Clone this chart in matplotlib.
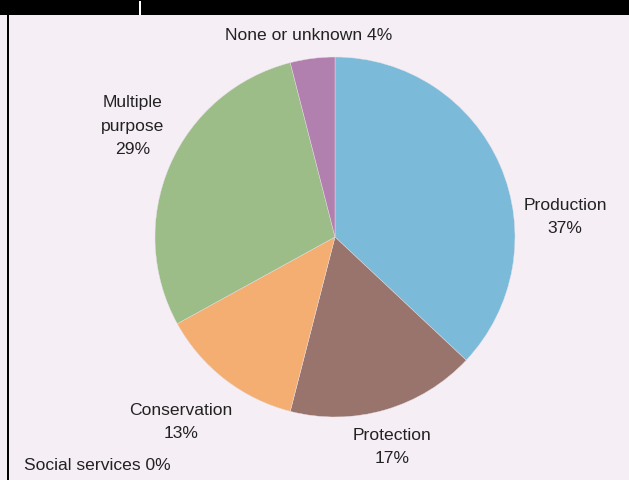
import matplotlib
matplotlib.use("Agg")
import matplotlib.pyplot as plt

categories = ["Production", "Protection", "Conservation", "Multiple purpose", "None or unknown", "Social services"]
values = [37, 17, 13, 29, 4, 0]
colors = ["#7bbbd9", "#98746c", "#f4ae72", "#9cbd88", "#b280ae", "#cccccc"]
label_texts = ["Production\n37%", "Protection\n17%", "Conservation\n13%", "Multiple\npurpose\n29%",
               "None or unknown 4%", "Social services 0%"]

W, H = 629, 480
bg = "#f5eef5"
fig = plt.figure(figsize=(W / 100, H / 100), dpi=100, facecolor=bg)

# pie axes: center (335,237), radius 180 px
cx, cy, r = 335, 237, 180
ax = fig.add_axes([(cx - r) / W, (H - cy - r) / H, 2 * r / W, 2 * r / H])
ax.set_facecolor("none")
ax.pie(values[:5], colors=colors[:5], startangle=90, counterclock=False, radius=1,
       wedgeprops=dict(linewidth=0.3, edgecolor="#e8e0e8"))
ax.set_xlim(-1, 1)
ax.set_ylim(-1, 1)
ax.set_aspect("equal")
ax.axis("off")

font = dict(family=["Liberation Sans", "DejaVu Sans"], fontsize=12.6, color="#222222",
            linespacing=1.7)
# label positions in pixels (center of text block)
pos = [(565, 217, "center"), (392, 447, "center"), (181, 422, "center"),
       (133, 126, "center"), (309, 35, "center"), (24, 466, "left")]
for txt, (x, y, ha) in zip(label_texts, pos):
    fig.text(x / W, 1 - y / H, txt, ha=ha, va="center", multialignment="center", **font)

# black frame band at top and left border
fig.add_artist(plt.Rectangle((0, 1 - 15 / H), 1, 15 / H, transform=fig.transFigure,
                             facecolor="black", edgecolor="none"))
fig.add_artist(plt.Rectangle((7 / W, 0), 2 / W, 1, transform=fig.transFigure,
                             facecolor="black", edgecolor="none"))
fig.add_artist(plt.Rectangle((139 / W, 1 - 15 / H), 2 / W, 14 / H, transform=fig.transFigure,
                             facecolor="white", edgecolor="none"))

fig.savefig("out.png", dpi=100, facecolor=bg)
